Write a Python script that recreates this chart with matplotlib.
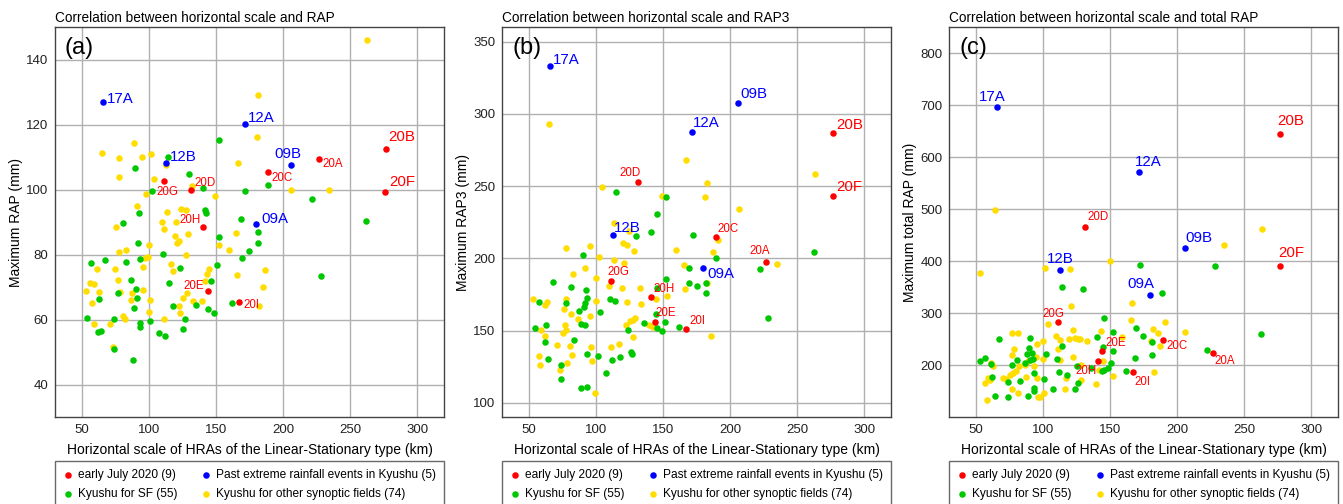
import matplotlib
matplotlib.use("Agg")
import matplotlib.pyplot as plt

plt.rcParams['font.family'] = ['Liberation Sans', 'DejaVu Sans']

# Horizontal scale (km) of the labelled events
event_names = ["17A", "12A", "12B", "09B", "09A",
               "20A", "20B", "20C", "20D", "20E", "20F", "20G", "20H", "20I"]
event_groups = ["past"] * 5 + ["2020"] * 9
event_scale = [65.9, 171.7, 112.8, 205.7, 179.8,
               226.7, 276.6, 189.0, 131.5, 143.8, 276.2, 111.1, 140.7, 167.3]
event_rap = [127.1, 120.4, 108.3, 107.7, 89.6,
             109.4, 112.7, 105.4, 100.0, 68.9, 99.3, 102.7, 88.6, 65.5]
event_rap3 = [332.9, 287.3, 215.9, 307.9, 193.6,
              197.2, 286.6, 214.7, 252.8, 156.3, 243.5, 184.4, 173.1, 151.0]
event_total = [696.0, 571.8, 382.7, 426.3, 335.3,
               224.4, 645.5, 249.4, 466.7, 228.2, 391.7, 283.3, 207.7, 187.2]

# (a) Maximum RAP
sf_rap = [(151.9, 115.4), (114.2, 110.1), (89.7, 106.7), (129.6, 105), (140.3, 100.7),
          (102.6, 99.7), (172, 99.7), (188.6, 101.4), (221.6, 97.3), (141.8, 93.8),
          (142.3, 93), (92.9, 93), (81, 89.8), (168.6, 90.9), (261.8, 90.3),
          (151.9, 85.4), (181, 87), (181, 83.7), (91.9, 83.7), (174.8, 81.2),
          (169.1, 79.1), (150.9, 77), (110.3, 80.4), (123.4, 76), (114.7, 71.2),
          (146, 72), (57.2, 77.6), (67.6, 78.4), (83.2, 77.9), (93.2, 78.6),
          (86.9, 72.1), (90.4, 69.6), (76.8, 68.2), (62.6, 66.4), (90.9, 66.7),
          (88.9, 63.6), (117.7, 64.4), (135.3, 64.7), (126.6, 60.2), (125.6, 57.2),
          (144, 63.4), (148.7, 62), (161.6, 65.1), (54, 60.6), (74.1, 60.3),
          (93.7, 59.1), (93.2, 57.9), (101.1, 59.6), (61.9, 56.2), (64.4, 56.6),
          (107.5, 55.9), (112, 54.9), (74.1, 50.9), (88.4, 47.5), (228, 73.4)]
other_rap = [(262.8, 146.2), (181.7, 129.1), (180.7, 116.1), (64.9, 111.3), (77.8, 109.7),
             (89.2, 114.3), (94.9, 110), (101.8, 111), (77.5, 104), (112.7, 107.5),
             (103.8, 103.4), (166.6, 108.3), (132.3, 101.3), (149.5, 98), (206, 100),
             (234.5, 100), (90.9, 95), (113.2, 93.3), (123.9, 94.2), (127.9, 93.9),
             (110, 90), (120.4, 90), (75.8, 88.7), (119.4, 85.8), (121, 83.7),
             (122.5, 84.2), (129.4, 86.3), (165.3, 86.7), (99.9, 83), (152.4, 83),
             (159.4, 81.5), (77.8, 80.9), (83, 81.5), (99.4, 79.4), (97.1, 78.9),
             (127.9, 80), (116.7, 77.3), (117.9, 75), (95.9, 76.3), (75, 75.6),
             (61.2, 75.6), (76.8, 72.3), (56, 71.4), (59, 71.1), (62.6, 68.7),
             (53.2, 68.8), (57.4, 65.1), (59.2, 58.8), (78.5, 68.5), (87.5, 68.1),
             (86.5, 66.1), (95.9, 69.1), (100.8, 66.2), (100.1, 62.5), (80.8, 61.3),
             (82.1, 60.3), (71.1, 58.8), (73.1, 51.6), (111, 60.3), (122.4, 64.1),
             (123.4, 62.2), (125.4, 66.8), (128.4, 68.1), (132.6, 65.8), (139.5, 65.8),
             (142, 72), (143.3, 74), (144.5, 75.6), (165.6, 73.9), (185.4, 70.2),
             (186.9, 75.3), (182.4, 64.1), (110.9, 88.0), (97.5, 98.6)]

# (b) Maximum RAP3
sf_rap3 = [(114.4, 246.1), (152.4, 242.6), (145.7, 231), (140.5, 218.2), (129.8, 215.4),
           (172.3, 216.1), (262.5, 204.6), (89.8, 202.1), (189.2, 200.2), (169, 193.3),
           (222, 192.6), (152.4, 186), (67.9, 183.4), (169, 183), (181.5, 183),
           (175.2, 181.1), (81.3, 180.5), (145.2, 179.3), (92.7, 177.9), (181.5, 176.1),
           (93.5, 172.6), (57.5, 170.1), (77.3, 169.4), (110.4, 171.7), (114.1, 170.3),
           (92, 169.2), (91, 166.2), (87, 163.7), (102.7, 163.2), (144.4, 161.8),
           (88.8, 154.5), (91.3, 153.6), (136, 155.4), (151.1, 156.3), (62.9, 154),
           (54.2, 151.5), (145.4, 151.5), (149.2, 149.9), (161.8, 152.4), (123.8, 150.1),
           (62.2, 141.8), (83.5, 143.2), (93.5, 134), (126, 135.2), (126.8, 133.6),
           (101.2, 132.4), (118.1, 131.5), (112.1, 129.9), (64.4, 130.1), (73.9, 126),
           (107.4, 120.7), (74.1, 116.8), (88.8, 110.3), (93, 111), (228, 158.5)]
other_rap3 = [(64.7, 293.1), (263.2, 258.1), (167, 268.3), (182.5, 252.1), (104.2, 249.5),
              (149.4, 243.3), (181.2, 242.6), (206.3, 234), (113.6, 224.4), (124.6, 219.1),
              (190.9, 212.6), (120.1, 211), (122.8, 209.2), (95.2, 208.3), (77.6, 207.4),
              (128, 205.3), (159.6, 205.7), (187.2, 204.6), (101.9, 200.7), (112.9, 198.6),
              (121.1, 197), (235.1, 196.3), (165.8, 195.4), (91.3, 193.1), (82.8, 189.2),
              (100, 186.7), (109.9, 180.7), (119.6, 179.8), (132.8, 179.3), (166, 178.6),
              (152.6, 174.3), (144.6, 171.7), (53.2, 172.2), (63.2, 170.1), (61.5, 168),
              (77.8, 171.7), (100.2, 170.3), (123.3, 169.7), (133.2, 168.7), (76.1, 165.3),
              (81, 161.6), (95.7, 160.2), (129.3, 158.9), (127.5, 157.5), (125.5, 156.6),
              (86.8, 158.2), (77.1, 153.6), (122.3, 154), (139.7, 154), (142.4, 152.4),
              (75.1, 148.3), (77.3, 150.1), (59.2, 150.3), (61.5, 146), (185.9, 146.2),
              (127.8, 145.5), (116.8, 140.9), (70.9, 140), (80.5, 139.5), (95.9, 138.4),
              (110.9, 138.4), (57.2, 132.6), (81.6, 133.1), (96.7, 129), (78.1, 127.8),
              (58.2, 126), (73.1, 122.5), (99.2, 106.9), (182.5, 183)]

# (c) Maximum total RAP
sf_total = [(227.9, 391), (172.1, 393.6), (113.9, 350.6), (129.4, 347.4), (188.6, 338.5),
            (145.5, 290.4), (168.9, 271.8), (152, 263.5), (262, 260.9), (139.8, 254.5),
            (174.4, 255.8), (90.3, 253.2), (67.2, 250.6), (180.8, 244.9), (113.9, 237.2),
            (144.5, 235.9), (221.9, 230.1), (151.7, 226.9), (102.2, 221.2), (89.3, 233.3),
            (91.3, 224.4), (87.8, 221.2), (180.8, 219.2), (168.7, 214.1), (53.2, 209),
            (56.9, 214.1), (61.4, 202.6), (80.8, 210.3), (76.6, 200), (92.5, 211.5),
            (90, 209.6), (86.8, 205.1), (110, 211.5), (150.7, 203.8), (125.4, 199.4),
            (135.8, 194.2), (143.8, 189.7), (145.3, 190.4), (148.5, 195.5), (161.4, 189.7),
            (111.7, 187.2), (92.8, 185.9), (61.9, 178.2), (73.6, 168.6), (82.6, 169.9),
            (100.7, 173.7), (117.4, 181.4), (126.1, 165.4), (93.3, 157.1), (93.3, 150.6),
            (107.2, 154.5), (123.4, 155.1), (63.7, 141.7), (73.4, 139.1), (88.6, 141.7)]
other_total = [(64.2, 498), (263, 462.8), (234.8, 430.8), (149.5, 400), (101.5, 387.8),
               (120.1, 384.6), (52.7, 377.6), (120.6, 314.7), (166.4, 319.9), (103.7, 278.8),
               (165.4, 287.2), (190.5, 283.3), (181.8, 269.9), (185.3, 262.8), (205.7, 264.1),
               (143, 266), (122.1, 267.3), (159, 254.5), (76.9, 261.5), (81.3, 262.8),
               (109.7, 255.8), (112.7, 248), (118.9, 250.6), (123.4, 251.9), (126.1, 250.6),
               (127.6, 251.3), (132.6, 247.4), (99.5, 247.4), (95.5, 241.7), (180.3, 247.4),
               (186.8, 237.8), (77.9, 230.8), (110.7, 230.8), (76.4, 220.5), (95, 216.7),
               (121.9, 216.7), (60.9, 205.1), (62.9, 198.1), (82.1, 198.7), (86.1, 200),
               (88.6, 208.3), (99.5, 212.2), (112.7, 210.9), (144.5, 208.9), (128.1, 200.6),
               (141.3, 191), (182.3, 187.8), (93, 198.7), (60.4, 171.8), (58.7, 175),
               (56.7, 166.7), (70.4, 176.3), (72.6, 174.4), (75.1, 182.1), (77.6, 184.6),
               (79.9, 188.5), (87.1, 178.2), (95.3, 176.3), (117.2, 175), (127.9, 171.8),
               (152.2, 180.1), (139.3, 164.1), (77.1, 155.1), (81.1, 147.4), (116.4, 155.1),
               (100.5, 147.4), (97.8, 139.7), (96.3, 139.1), (58, 133.3)]

# legend entries in column order (left column first)
legend_labels = ["early July 2020 (9)", "Kyushu for SF (55)",
                 "Past extreme rainfall events in Kyushu (5)", "Kyushu for other synoptic fields (74)"]

# label offsets (pixels, text centre relative to the dot)
offsets_a = {"17A": (17, 3), "12A": (16, 6), "12B": (17, 6), "09B": (-3, 11), "09A": (19, 5),
             "20A": (14, -5), "20B": (16, 12), "20C": (14, -6), "20D": (14, 7), "20E": (-14, 5),
             "20F": (17, 10), "20G": (4, -11), "20H": (-13, 7), "20I": (12, -3)}
offsets_b = {"17A": (16, 6), "12A": (14, 9), "12B": (14, 7), "09B": (16, 9), "09A": (18, -6),
             "20A": (-6, 11), "20B": (17, 8), "20C": (12, 8), "20D": (-8, 9), "20E": (11, 9),
             "20F": (17, 9), "20G": (7, 9), "20H": (13, 8), "20I": (11, 8)}
offsets_c = {"17A": (-5, 10), "12A": (9, 10), "12B": (0, 11), "09B": (14, 10), "09A": (-9, 11),
             "20A": (12, -8), "20B": (11, 13), "20C": (14, -6), "20D": (13, 10), "20E": (14, 8),
             "20F": (12, 13), "20G": (-5, 8), "20H": (-12, -10), "20I": (9, -10)}
big_labels = ["17A", "12A", "12B", "09B", "09A", "20B", "20F"]

RED, BLUE, GREEN, YELLOW = "#ff0000", "#0000ff", "#00c800", "#ffdd00"
DOT = 22

fig = plt.figure(figsize=(13.43, 5.04), dpi=100)
W, H = 1343, 504
lefts = [55, 502.3, 949.3]
panels = [
    ("(a)", "Correlation between horizontal scale and RAP", "Maximum RAP (mm)",
     event_rap, sf_rap, other_rap, (30, 150), range(40, 141, 20), offsets_a),
    ("(b)", "Correlation between horizontal scale and RAP3", "Maximum RAP3 (mm)",
     event_rap3, sf_rap3, other_rap3, (90, 360), range(100, 351, 50), offsets_b),
    ("(c)", "Correlation between horizontal scale and total RAP", "Maximum total RAP (mm)",
     event_total, sf_total, other_total, (100, 850), range(200, 801, 100), offsets_c),
]

for left, (tag, title, ylabel, ev, sf, oth, ylim, yticks, offs) in zip(lefts, panels):
    ax = fig.add_axes([left / W, 1 - 417.3 / H, 389 / W, 390 / H])
    ax.set_xlim(30, 320)
    ax.set_ylim(*ylim)
    ax.set_xticks(range(50, 301, 50))
    ax.set_yticks(list(yticks))
    ax.grid(True, color="#b0b0b0", linewidth=1.0)
    ax.set_axisbelow(True)
    ax.tick_params(length=0, labelsize=9.5, pad=5, colors="#222222")
    for sp in ax.spines.values():
        sp.set_color("#444444")
        sp.set_linewidth(1.0)

    ax.scatter([p[0] for p in oth], [p[1] for p in oth], s=DOT, c=YELLOW, linewidths=0, zorder=3)
    ax.scatter([p[0] for p in sf], [p[1] for p in sf], s=DOT, c=GREEN, linewidths=0, zorder=3)
    xs_r = [x for x, g in zip(event_scale, event_groups) if g == "2020"]
    ys_r = [y for y, g in zip(ev, event_groups) if g == "2020"]
    xs_b = [x for x, g in zip(event_scale, event_groups) if g == "past"]
    ys_b = [y for y, g in zip(ev, event_groups) if g == "past"]
    ax.scatter(xs_r, ys_r, s=DOT, c=RED, linewidths=0, zorder=4)
    ax.scatter(xs_b, ys_b, s=DOT, c=BLUE, linewidths=0, zorder=4)

    for name, grp, x, y in zip(event_names, event_groups, event_scale, ev):
        dx, dy = offs[name]
        big = name in big_labels
        ax.annotate(name, (x, y), xytext=(dx * 0.72, dy * 0.72), textcoords="offset points",
                    ha="center", va="center", fontsize=10.8 if big else 8.3,
                    color=BLUE if grp == "past" else RED, zorder=5)

    ax.text(0.025, 0.975, tag, transform=ax.transAxes, fontsize=17, ha="left", va="top")
    ax.set_title(title, loc="left", fontsize=9.8, pad=4)
    ax.set_xlabel("Horizontal scale of HRAs of the Linear-Stationary type (km)", fontsize=10, labelpad=5)
    ax.set_ylabel(ylabel, fontsize=10, labelpad=2)

    handles = [ax.scatter([], [], s=DOT, c=c, linewidths=0) for c in (RED, GREEN, BLUE, YELLOW)]
    leg = ax.legend(handles, legend_labels, loc="upper left", bbox_to_anchor=(0, -0.1113, 1, 0),
                    mode="expand", ncol=2, fontsize=8.6, frameon=True, fancybox=False,
                    handletextpad=0.41, handlelength=0.8, columnspacing=1.0,
                    borderaxespad=0, labelspacing=0.6, borderpad=0.7)
    leg.get_frame().set_edgecolor("#444444")
    leg.get_frame().set_linewidth(1.0)

fig.savefig("out.png", dpi=100)
